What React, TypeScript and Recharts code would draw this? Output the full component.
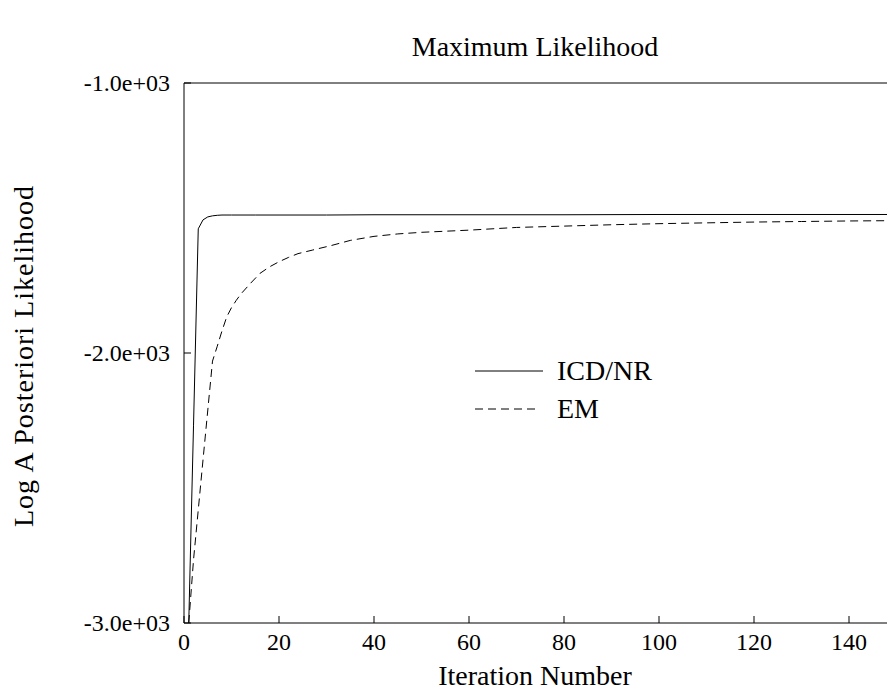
import React from 'react';
import { LineChart, Line, XAxis, YAxis, ReferenceLine, Legend } from 'recharts';

// ICD/NR iterations and values
const icdIter = [1, 2, 3, 4, 5, 6, 7, 8, 10, 15, 20, 30, 40, 60, 80, 100, 120, 140, 148];
const icdValues = [-3000, -2270, -1540, -1507, -1496, -1492, -1490, -1489, -1489, -1489, -1489, -1489, -1488, -1488, -1488, -1487, -1487, -1487, -1487];

// EM iterations and values
const emIter = [1, 2, 4, 6, 7, 8, 9, 10, 11, 12, 14, 16, 18, 20, 22, 24, 27, 31, 35, 40, 45, 50, 55, 60, 70, 80, 90, 100, 110, 120, 130, 140, 148];
const emValues = [-3000, -2767, -2396, -2030, -1975, -1918, -1866, -1832, -1805, -1781, -1742, -1705, -1681, -1662, -1646, -1632, -1619, -1602, -1583, -1568, -1559, -1553, -1549, -1545, -1535, -1530, -1525, -1521, -1518, -1515, -1513, -1511, -1510];

const xTicks = [0, 20, 40, 60, 80, 100, 120, 140];
const yTicks = [-3000, -2000, -1000];
const seriesNames = ['ICD/NR', 'EM'];

const icdData = icdIter.map((it, i) => ({ iter: it, value: icdValues[i] }));
const emData = emIter.map((it, i) => ({ iter: it, value: emValues[i] }));

const FONT = "'Liberation Serif', 'Times New Roman', serif";

// format -1000 as -1.0e+03
const sci = (v: number) => {
  const [m, e] = v.toExponential(1).split('e');
  const n = parseInt(e, 10);
  const sign = n < 0 ? '-' : '+';
  return `${m}e${sign}${String(Math.abs(n)).padStart(2, '0')}`;
};

const YTick = (props: any) => {
  const { x, y, payload } = props;
  return (
    <g>
      <line x1={x + 14} x2={x + 21} y1={y} y2={y} stroke="#000" />
      <text x={x} y={y} dy={8} textAnchor="end" fontSize={24} fontFamily={FONT} fill="#000">
        {sci(payload.value)}
      </text>
    </g>
  );
};

const XTick = (props: any) => {
  const { x, y, payload } = props;
  return (
    <g>
      <line x1={x} x2={x} y1={y - 11} y2={y - 18} stroke="#000" />
      <text x={x} y={y} dy={16} textAnchor="middle" fontSize={24} fontFamily={FONT} fill="#000">
        {payload.value}
      </text>
    </g>
  );
};

const LegendBox = () => (
  <div style={{ fontFamily: FONT, fontSize: 28, color: '#000' }}>
    {seriesNames.map((name, i) => (
      <div key={name} style={{ display: 'flex', alignItems: 'center', height: 38 }}>
        <svg width={82} height={10} style={{ display: 'block' }}>
          <line
            x1={0}
            x2={i === 0 ? 68 : 62}
            y1={5}
            y2={5}
            stroke="#000"
            strokeDasharray={i === 0 ? undefined : '8 5'}
          />
        </svg>
        <span style={{ lineHeight: '38px' }}>{name}</span>
      </div>
    ))}
  </div>
);

export default function App() {
  return (
    <div style={{ position: 'absolute', left: 0, top: 0, width: 887, height: 696, background: '#fff', fontFamily: FONT }}>
      <div
        style={{
          position: 'absolute',
          left: 535,
          top: 47,
          transform: 'translate(-50%, -50%)',
          fontSize: 28,
          whiteSpace: 'nowrap',
        }}
      >
        Maximum Likelihood
      </div>
      <div
        style={{
          position: 'absolute',
          left: 24,
          top: 356,
          transform: 'translate(-50%, -50%) rotate(-90deg)',
          fontSize: 28,
          letterSpacing: 1,
          whiteSpace: 'nowrap',
        }}
      >
        Log A Posteriori Likelihood
      </div>
      <div
        style={{
          position: 'absolute',
          left: 535,
          top: 676,
          transform: 'translate(-50%, -50%)',
          fontSize: 28,
          whiteSpace: 'nowrap',
        }}
      >
        Iteration Number
      </div>
      <LineChart width={887} height={696} margin={{ top: 83, right: 0, bottom: 0, left: 0 }}>
        <XAxis
          dataKey="iter"
          type="number"
          domain={[0, 148]}
          ticks={xTicks}
          allowDataOverflow
          height={73}
          tickSize={0}
          tickMargin={11}
          tickLine={false}
          tick={<XTick />}
          axisLine={{ stroke: '#000' }}
          interval={0}
        />
        <YAxis
          dataKey="value"
          type="number"
          domain={[-3000, -1000]}
          ticks={yTicks}
          allowDataOverflow
          width={184}
          tickSize={0}
          tickMargin={14}
          tickLine={false}
          tick={<YTick />}
          axisLine={{ stroke: '#000' }}
          interval={0}
        />
        <ReferenceLine y={-1000} stroke="#000" />
        <Legend
          layout="vertical"
          align="center"
          verticalAlign="middle"
          content={<LegendBox />}
          wrapperStyle={{ position: 'absolute', left: 475, top: 352, width: 220 }}
        />
        <Line
          data={icdData}
          dataKey="value"
          name={seriesNames[0]}
          type="linear"
          stroke="#000"
          strokeWidth={1}
          dot={false}
          isAnimationActive={false}
        />
        <Line
          data={emData}
          dataKey="value"
          name={seriesNames[1]}
          type="linear"
          stroke="#000"
          strokeWidth={1}
          strokeDasharray="8 5"
          dot={false}
          isAnimationActive={false}
        />
      </LineChart>
    </div>
  );
}
